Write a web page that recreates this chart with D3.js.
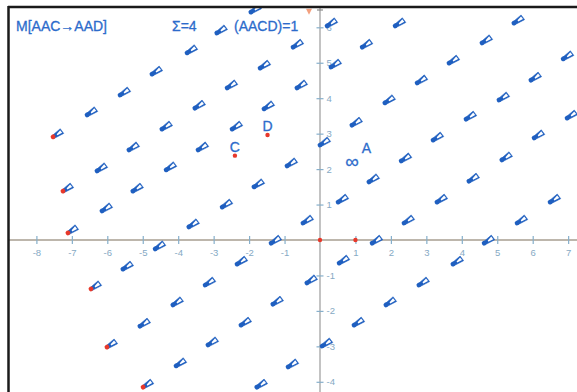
<!DOCTYPE html>
<html>
<head>
<meta charset="utf-8">
<script src="https://cdn.jsdelivr.net/npm/d3@7"></script>
<style>
  body { margin: 0; background: #fff; }
  svg { display: block; font-family: "Liberation Sans", Arial, sans-serif; }
</style>
</head>
<body>
<div id="chart"></div>
<script>
// ----------------------- glyph rows (data units)

var row1 = [[-7.53,2.91],[-6.57,3.53],[-5.64,4.09],[-4.74,4.68],[-3.75,5.28],[-2.91,5.84],[-1.95,6.43]];
var row2 = [[-7.25,1.38],[-6.29,1.95],[-5.39,2.54],[-4.46,3.13],[-3.53,3.72],[-2.62,4.29],[-1.69,4.85],[-0.76,5.44],[0.20,6.04]];
var row3 = [[-7.11,0.20],[-6.15,0.82],[-5.28,1.38],[-4.34,1.98],[-3.44,2.54],[-2.48,3.13],[-1.58,3.70],[-0.65,4.29],[0.31,4.88],[1.19,5.44],[2.12,6.04]];
var row4 = [[-6.46,-1.38],[-5.56,-0.82],[-4.65,-0.25],[-3.70,0.37],[-2.76,0.93],[-1.86,1.50],[-0.93,2.09],[0.00,2.68],[0.90,3.24],[1.83,3.87],[2.74,4.43],[3.64,4.99],[4.57,5.56],[5.47,6.12]];
var row5 = [[-6.01,-3.02],[-5.08,-2.43],[-4.15,-1.83],[-3.24,-1.27],[-2.34,-0.68],[-1.38,-0.09],[-0.48,0.48],[0.51,1.07],[1.38,1.64],[2.29,2.23],[3.19,2.82],[4.12,3.41],[5.05,3.95],[5.95,4.51],[6.86,5.11]];
var row6 = [[-4.99,-4.15],[-4.06,-3.55],[-3.16,-2.96],[-2.23,-2.40],[-1.33,-1.81],[-0.37,-1.21],[0.54,-0.65],[1.47,-0.09],[2.37,0.48],[3.30,1.07],[4.20,1.66],[5.13,2.26],[6.04,2.88],[6.97,3.44]];
var row7 = [[-1.78,-4.15],[-0.90,-3.58],[0.06,-2.99],[0.96,-2.40],[1.86,-1.83],[2.79,-1.27],[3.75,-0.68],[4.63,-0.09],[5.56,0.48],[6.49,1.07]];

var rows = [row1, row2, row3, row4, row5, row6, row7];
var rowStartRed = [true, true, true, true, true, true, false];

var xTicks = [-8, -7, -6, -5, -4, -3, -2, -1, 1, 2, 3, 4, 5, 6, 7];
var yTicks = [-4, -3, -2, -1, 1, 2, 3, 4, 5, 6];

var namedPoints = [{ name: "C", x: -2.40, y: 2.38 }, { name: "D", x: -1.48, y: 2.96 }];
var plainPoints = [[0, 0], [1, 0]];
var looseLabels = [{ text: "A", x: 1.31, y: 2.45, size: 14 }, { text: "∞", x: 0.90, y: 2.04, size: 19 }];
var marker = [-0.31, 6.44];

var headerTexts = ["M[AAC→AAD]", "Σ=4", "(AACD)=1"];

// ----------------------- drawing

var width = 577, height = 392;
var unit = 35.45, ox = 320, oy = 240;   // pixel of origin, px per unit
var blue = "#1f5fc0", red = "#e8382a", textBlue = "#2c6bcb";

var x = d3.scaleLinear().domain([-ox / unit, (width - ox) / unit]).range([0, width]);
var y = d3.scaleLinear().domain([oy / unit, -(height - oy) / unit]).range([0, height]);

var svg = d3.select("#chart").append("svg")
    .attr("width", width)
    .attr("height", height);

svg.append("defs").append("clipPath").attr("id", "plot")
    .append("rect").attr("x", 9).attr("y", 8).attr("width", width - 9).attr("height", height - 8);

var plot = svg.append("g").attr("clip-path", "url(#plot)");

// axes lines
plot.append("line")
    .attr("x1", 0).attr("x2", width)
    .attr("y1", y(0)).attr("y2", y(0))
    .attr("stroke", "#bdb6ac").attr("stroke-width", 1.8);
plot.append("line")
    .attr("x1", x(0)).attr("x2", x(0))
    .attr("y1", 0).attr("y2", height)
    .attr("stroke", "#b4b4b4").attr("stroke-width", 1.6);

// x ticks
var xAxis = plot.append("g")
    .attr("transform", "translate(0," + y(0) + ")")
    .call(d3.axisBottom(x).tickValues(xTicks).tickSize(4).tickPadding(5)
        .tickFormat(function(d) { return String(d); }));
xAxis.select(".domain").remove();
xAxis.selectAll(".tick line").attr("y1", -4).attr("stroke", "#86afcb").attr("stroke-width", 1.2);
xAxis.selectAll(".tick text").attr("fill", "#86a9c4").style("font-size", "9.5px")
    .style("font-family", "'Liberation Sans', Arial, sans-serif");

// y ticks
var yAxis = plot.append("g")
    .attr("transform", "translate(" + x(0) + ",0)")
    .call(d3.axisRight(y).tickValues(yTicks).tickSize(3.5).tickPadding(3)
        .tickFormat(function(d) { return String(d); }));
yAxis.select(".domain").remove();
yAxis.selectAll(".tick line").attr("x1", -3.5).attr("stroke", "#86afcb").attr("stroke-width", 1.2);
yAxis.selectAll(".tick text").attr("fill", "#86a9c4").style("font-size", "9.5px")
    .style("font-family", "'Liberation Sans', Arial, sans-serif");

// glyphs
var glyphs = [];
rows.forEach(function(row, r) {
    row.forEach(function(p, i) {
        glyphs.push({ x: p[0], y: p[1], red: i === 0 && rowStartRed[r] });
    });
});

var gl = plot.selectAll(".glyph")
    .data(glyphs)
    .enter()
    .append("g")
    .attr("class", "glyph")
    .attr("transform", function(d) { return "translate(" + x(d.x) + "," + y(d.y) + ") rotate(-29)"; });

gl.append("path") // cone, widening away from the dot
    .attr("d", "M0,-1.5 L10.2,-3.6 L11,2.2 L0,1.9 Z")
    .attr("fill", blue)
    .attr("stroke", blue)
    .attr("stroke-width", 0.5)
    .attr("stroke-linejoin", "round");
gl.append("path") // white hollow inside the cone
    .attr("d", "M4.5,-0.6 L9.4,-2.3 L9.9,0.9 L4.5,0.8 Z")
    .attr("fill", "#fff");
gl.append("circle")
    .attr("r", 2.4)
    .attr("fill", function(d) { return d.red ? red : blue; });

// points and labels
plot.selectAll(".pt")
    .data(plainPoints.concat(namedPoints.map(function(d) { return [d.x, d.y]; })))
    .enter()
    .append("circle")
    .attr("cx", function(d) { return x(d[0]); })
    .attr("cy", function(d) { return y(d[1]); })
    .attr("r", 2.2)
    .attr("fill", red);

plot.selectAll(".ptlabel")
    .data(namedPoints)
    .enter()
    .append("text")
    .attr("x", function(d) { return x(d.x); })
    .attr("y", function(d) { return y(d.y) - 4; })
    .attr("text-anchor", "middle")
    .attr("fill", textBlue)
    .attr("stroke", textBlue)
    .attr("stroke-width", 0.3)
    .style("font-size", "14px")
    .text(function(d) { return d.name; });

plot.selectAll(".loose")
    .data(looseLabels)
    .enter()
    .append("text")
    .attr("x", function(d) { return x(d.x); })
    .attr("y", function(d) { return y(d.y); })
    .attr("text-anchor", "middle")
    .attr("fill", textBlue)
    .attr("stroke", textBlue)
    .attr("stroke-width", 0.3)
    .style("font-size", function(d) { return d.size + "px"; })
    .text(function(d) { return d.text; });

// small orange marker near top of y axis
plot.append("path")
    .attr("transform", "translate(" + x(marker[0]) + "," + y(marker[1]) + ")")
    .attr("d", "M-3,-3 L3,-3 L0,3 Z")
    .attr("fill", "#f3a07e");
plot.append("line")
    .attr("x1", x(0) - 3).attr("x2", x(0) + 3)
    .attr("y1", 10).attr("y2", 10)
    .attr("stroke", "#8c8c8c").attr("stroke-width", 1.2);

// header texts
var headerX = [16, 172, 234];
svg.selectAll(".head")
    .data(headerTexts)
    .enter()
    .append("text")
    .attr("x", function(d, i) { return headerX[i]; })
    .attr("y", 31)
    .attr("fill", textBlue)
    .attr("stroke", textBlue)
    .attr("stroke-width", 0.3)
    .style("font-size", "14px")
    .text(function(d) { return d; });

// frame
svg.append("line").attr("x1", 8).attr("x2", width).attr("y1", 7).attr("y2", 7)
    .attr("stroke", "#1a1a1a").attr("stroke-width", 2.5);
svg.append("line").attr("x1", 8.5).attr("x2", 8.5).attr("y1", 6).attr("y2", height)
    .attr("stroke", "#1a1a1a").attr("stroke-width", 2.5);
</script>
</body>
</html>
